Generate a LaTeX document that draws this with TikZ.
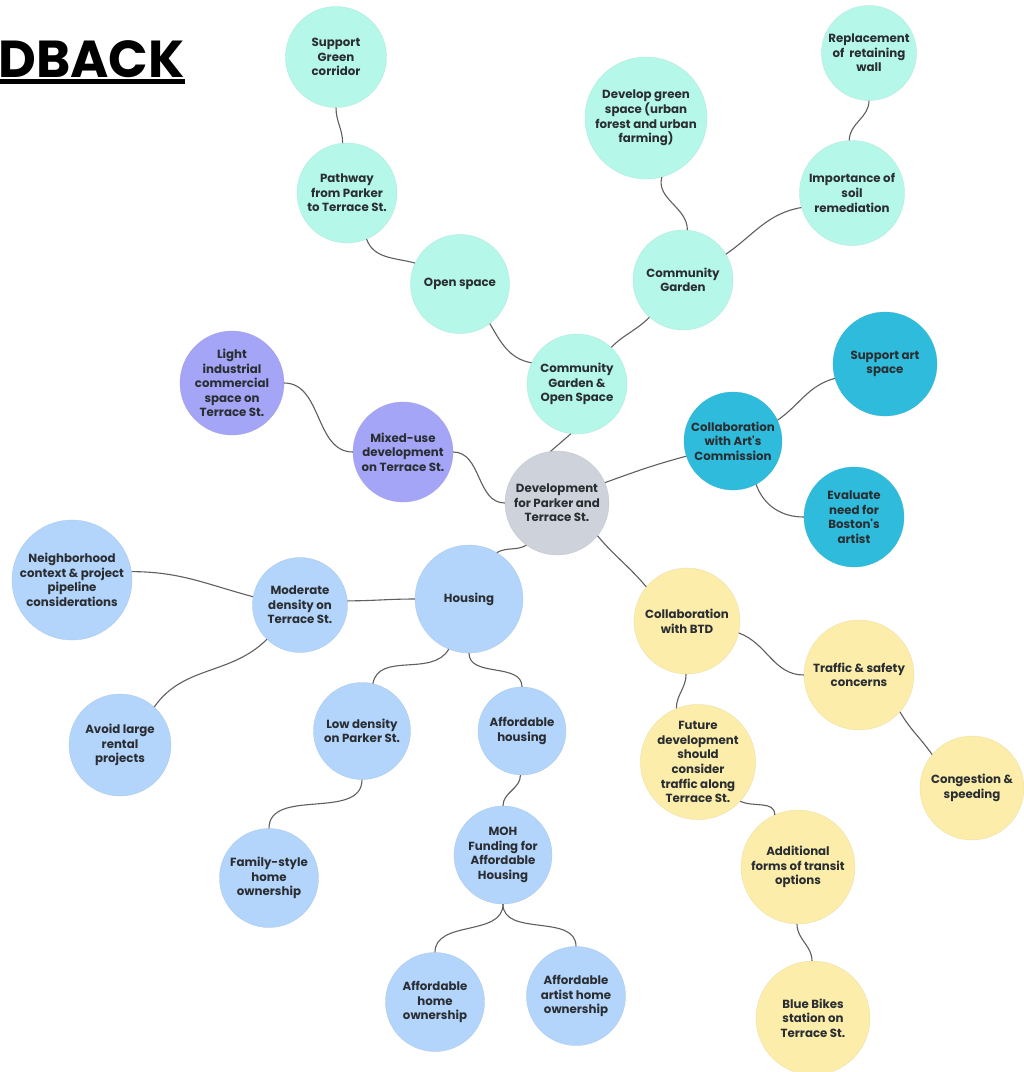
\documentclass[tikz,border=0pt]{standalone}
\usepackage{fontspec}
\setmainfont{Poppins}
\usetikzlibrary{calc}
\definecolor{mint}{HTML}{B5F8E9}
\definecolor{purp}{HTML}{A4A5F7}
\definecolor{greyc}{HTML}{CDD2DB}
\definecolor{cyanc}{HTML}{2FBCDC}
\definecolor{bluec}{HTML}{B3D4FB}
\definecolor{yellc}{HTML}{FCEDAA}
\definecolor{txt}{HTML}{2A2E32}
\definecolor{wire}{HTML}{5F5F5F}
\begin{document}
\begin{tikzpicture}[x=1pt,y=1pt,
  bub/.style={circle, inner sep=0pt, align=center, text=txt,
    font=\fontsize{11.8}{14.6}\selectfont\bfseries,
    fill=#1, draw=#1!85!gray, line width=0.3pt},
  conn/.style={draw=wire, line width=1.1pt}]
\useasboundingbox (0,0) rectangle (1024,-1072);
\fill[white] (0,0) rectangle (1024,-1072);

% title
\node[anchor=base west, inner sep=0pt, font=\fontsize{52}{52}\selectfont\bfseries] (title) at (-2,-77) {DBACK};
\fill ([yshift=-2pt]title.base west) rectangle ([yshift=-7pt]title.base east);

% mint branch
\node[bub=mint, minimum size=101pt] (sgc) at (336,-57) {Support\\Green\\corridor};
\node[bub=mint, minimum size=100pt] (path) at (347,-193) {Pathway\\from Parker\\to Terrace St.};
\node[bub=mint, minimum size=99pt] (open) at (460,-284) {Open space};
\node[bub=mint, minimum size=122pt] (dgs) at (646,-118) {Develop green\\space (urban\\forest and urban\\farming)};
\node[bub=mint, minimum size=95pt] (rep) at (869,-53) {Replacement\\of\ \ retaining\\wall};
\node[bub=mint, minimum size=105pt] (soil) at (852,-193) {Importance of\\soil\\remediation};
\node[bub=mint, minimum size=100pt] (cg) at (683,-280) {Community\\Garden};
\node[bub=mint, minimum size=100pt] (cgos) at (577,-384) {Community\\Garden \&\\Open Space};

% purple branch
\node[bub=purp, minimum size=104pt] (light) at (232,-383) {Light\\industrial\\commercial\\space on\\Terrace St.};
\node[bub=purp, minimum size=100pt] (mixed) at (403,-452) {Mixed-use\\development\\on Terrace St.};

% centre
\node[bub=greyc, minimum size=104pt] (dev) at (557,-503) {Development\\for Parker and\\Terrace St.};

% cyan branch
\node[bub=cyanc, minimum size=98pt] (art) at (733,-441) {Collaboration\\with Art\textquotesingle s\\Commission};
\node[bub=cyanc, minimum size=104pt] (sas) at (885,-364) {Support art\\space};
\node[bub=cyanc, minimum size=100pt] (eval) at (854,-517) {Evaluate\\need for\\Boston\textquotesingle s\\artist};

% blue branch
\node[bub=bluec, minimum size=108pt] (hous) at (469,-599) {Housing};
\node[bub=bluec, minimum size=95pt] (mod) at (300,-605) {Moderate\\density on\\Terrace St.};
\node[bub=bluec, minimum size=120pt] (neigh) at (72,-580) {Neighborhood\\context \& project\\pipeline\\considerations};
\node[bub=bluec, minimum size=102pt] (avoid) at (120,-745) {Avoid large\\rental\\projects};
\node[bub=bluec, minimum size=97pt] (low) at (362,-731) {Low density\\on Parker St.};
\node[bub=bluec, minimum size=88pt] (aff) at (522,-731) {Affordable\\housing};
\node[bub=bluec, minimum size=99pt] (fam) at (269,-878) {Family-style\\home\\ownership};
\node[bub=bluec, minimum size=98pt] (moh) at (503,-855) {MOH\\Funding for\\Affordable\\Housing};
\node[bub=bluec, minimum size=99pt] (ahome) at (435,-1002) {Affordable\\home\\ownership};
\node[bub=bluec, minimum size=99pt] (aart) at (576,-996) {Affordable\\artist home\\ownership};

% yellow branch
\node[bub=yellc, minimum size=106pt] (btd) at (687,-621) {Collaboration\\with BTD};
\node[bub=yellc, minimum size=110pt] (traf) at (859,-675) {Traffic \& safety\\concerns};
\node[bub=yellc, minimum size=108pt] (fut) at (698,-762) {Future\\development\\should\\consider\\traffic along\\Terrace St.};
\node[bub=yellc, minimum size=104pt] (cong) at (972,-788) {Congestion \&\\speeding};
\node[bub=yellc, minimum size=114pt] (addt) at (798,-867) {Additional\\forms of transit\\options};
\node[bub=yellc, minimum size=114pt] (bike) at (813,-1018) {Blue Bikes\\station on\\Terrace St.};

% connectors
\draw[conn] (sgc.-90) to[out=-90,in=90] (path.95);
\draw[conn] (path.-67) to[out=-70,in=165] (open.155);
\draw[conn] (open.-53) to[out=-60,in=170] (cgos.155);
\draw[conn] (dgs.-75) to[out=-105,in=90] (cg.85);
\draw[conn] (soil.196) to[out=190,in=35] (cg.31);
\draw[conn] (rep.-90) to[out=-90,in=90] (soil.93);
\draw[conn] (cg.228) to[out=225,in=45] (cgos.47);
\draw[conn] (cgos.-97) -- (dev.97);
\draw[conn] (light.0) to[out=0,in=180] (mixed.180);
\draw[conn] (mixed.0) to[out=0,in=180] (dev.180);
\draw[conn] (dev.23) to[out=20,in=195] (art.198);
\draw[conn] (art.25) to[out=35,in=195] (sas.196);
\draw[conn] (art.-62) to[out=-70,in=180] (eval.180);
\draw[conn] (dev.234) to[out=210,in=30] (hous.59);
\draw[conn] (dev.-39) to[out=-50,in=130] (btd.140);
\draw[conn] (hous.180) to[out=180,in=0] (mod.5);
\draw[conn] (mod.170) to[out=165,in=0] (neigh.8);
\draw[conn] (mod.226) to[out=225,in=55] (avoid.48);
\draw[conn] (hous.248) to[out=240,in=80] (low.77);
\draw[conn] (hous.-90) to[out=-90,in=90] (aff.90);
\draw[conn] (low.-90) to[out=-90,in=90] (fam.90);
\draw[conn] (aff.-92) to[out=-90,in=90] (moh.90);
\draw[conn] (moh.-90) to[out=-90,in=90] (ahome.90);
\draw[conn] (moh.-90) to[out=-90,in=90] (aart.90);
\draw[conn] (btd.-13) to[out=-20,in=180] (traf.180);
\draw[conn] (btd.-91) to[out=-90,in=90] (fut.112);
\draw[conn] (traf.-42) to[out=-60,in=125] (cong.140);
\draw[conn] (fut.-43) to[out=-25,in=90] (addt.114);
\draw[conn] (addt.-91) to[out=-90,in=90] (bike.91);
\end{tikzpicture}
\end{document}
